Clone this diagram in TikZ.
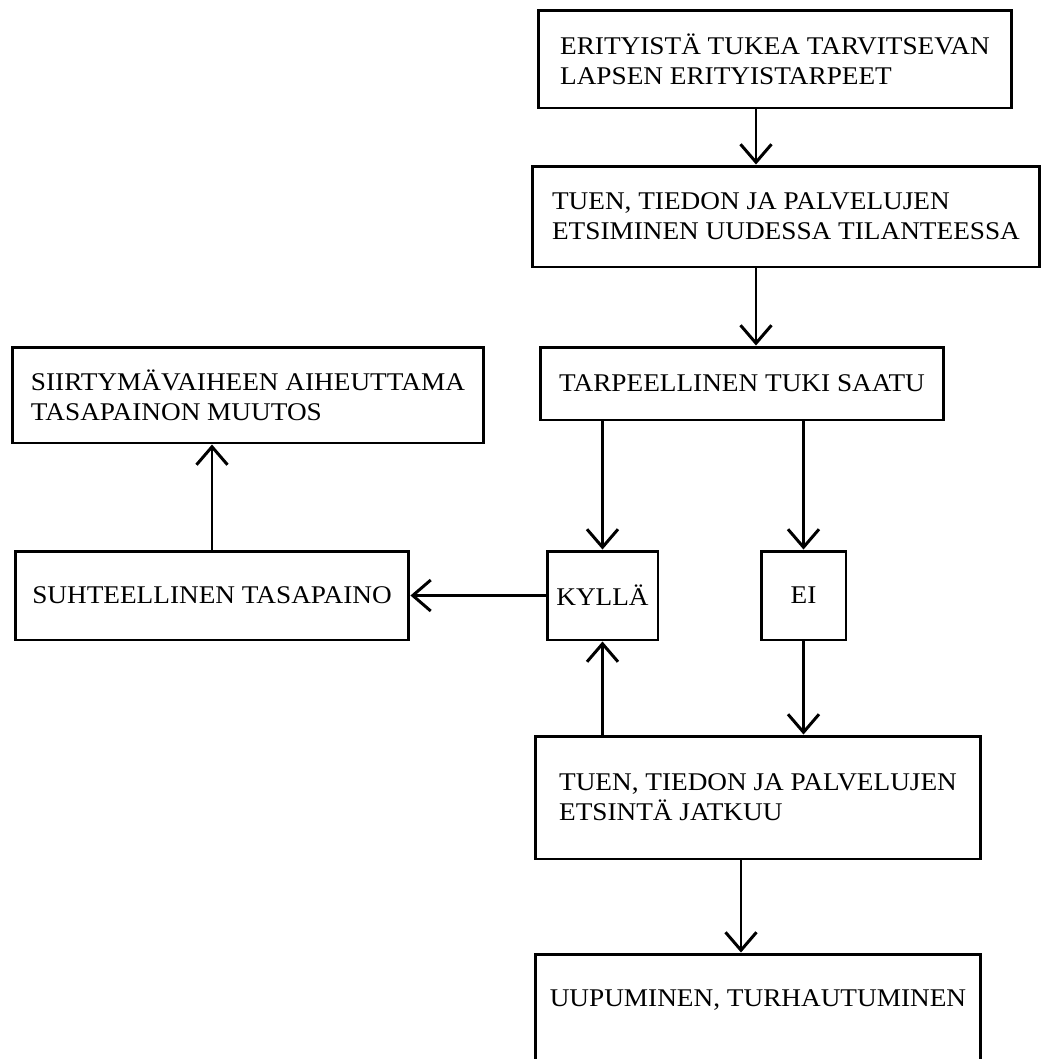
\documentclass[tikz,border=0pt]{standalone}
\usepackage{fontspec}
\setmainfont{Liberation Serif}[FakeStretch=1.07]
\usetikzlibrary{arrows.meta}

\begin{document}
\begin{tikzpicture}[x=0.02cm, y=-0.02cm, line width=1.7pt,
box/.style 2 args={draw, align=left, minimum width=#1, minimum height=#2,
  inner sep=0pt, font=\fontsize{14.5}{17}\selectfont},
flow/.style={-{Straight Barb[length=0.36cm,width=0.62cm]}}]

\path[use as bounding box, clip] (0,0) rectangle (1042,1059);

\node[box={9.48cm}{1.96cm}] (need) at (775,59) {ERITYISTÄ TUKEA TARVITSEVAN\\LAPSEN ERITYISTARPEET};
\node[box={10.16cm}{2.02cm}] (search) at (786,216.5) {TUEN, TIEDON JA PALVELUJEN\\ETSIMINEN UUDESSA TILANTEESSA};
\node[box={8.08cm}{1.46cm}] (gained) at (742,383.5) {TARPEELLINEN TUKI SAATU};

\node[box={9.44cm}{1.92cm}] (shift) at (248,395) {SIIRTYMÄVAIHEEN AIHEUTTAMA\\TASAPAINON MUUTOS};
\node[box={7.88cm}{1.78cm}] (balance) at (212,595.5) {SUHTEELLINEN TASAPAINO};

\node[box={2.22cm}{1.78cm}] (yes) at (602.5,595.5) {KYLLÄ};
\node[box={1.7cm}{1.78cm}] (no) at (803.5,595.5) {EI};

\node[box={8.92cm}{2.46cm}] (goon) at (758,797.5) {TUEN, TIEDON JA PALVELUJEN\\ETSINTÄ JATKUU};
\node[box={8.92cm}{2.52cm}, text depth=0.75cm] (tired) at (758,1017) {UUPUMINEN, TURHAUTUMINEN};

\coordinate (a1) at (756,0);
\coordinate (a2) at (741,0);

\draw (need.south -| a1) edge[flow] (search.north -| a1);
\draw (search.south -| a1) edge[flow] (gained.north -| a1);

\draw (gained.south -| yes) edge[flow] (yes);
\draw (gained.south -| no) edge[flow] (no);

\draw (yes) edge[flow] (balance);
\draw (balance) edge[flow] (balance |- shift.south);

\draw (no) edge[flow] (no |- goon.north);
\draw (goon.north -| yes) edge[flow] (yes);

\draw (goon.south -| a2) edge[flow] (tired.north -| a2);

\end{tikzpicture}
\end{document}
